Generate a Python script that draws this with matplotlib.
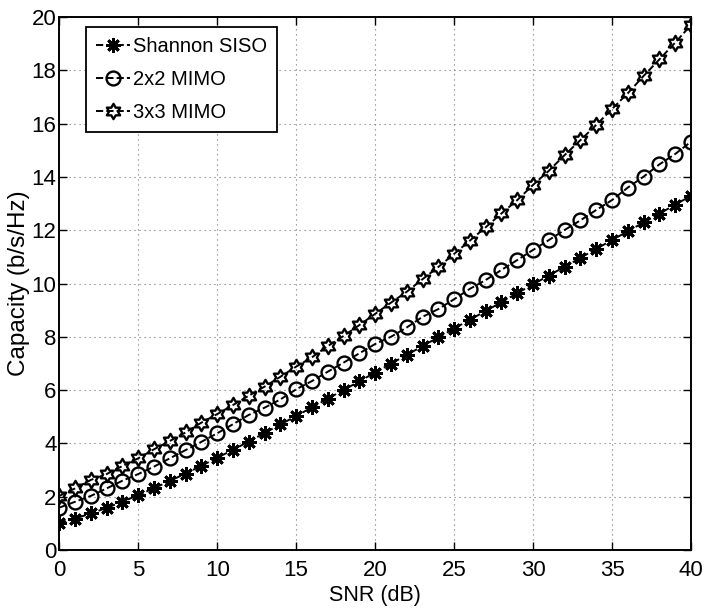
import matplotlib
matplotlib.use("Agg")
import matplotlib.pyplot as plt
from matplotlib.path import Path

plt.rcParams['font.family'] = ['Liberation Sans', 'DejaVu Sans']

# SNR axis (dB)
snr_db = list(range(0, 41))

# capacity curves (b/s/Hz)
siso = [1.00, 1.18, 1.37, 1.58, 1.81, 2.06, 2.32, 2.59, 2.87, 3.16,
        3.46, 3.76, 4.07, 4.39, 4.71, 5.03, 5.35, 5.68, 6.00, 6.33,
        6.66, 6.99, 7.32, 7.65, 7.98, 8.31, 8.64, 8.97, 9.30, 9.64,
        9.97, 10.30, 10.63, 10.96, 11.30, 11.63, 11.96, 12.29, 12.62, 12.96,
        13.29]
mimo2 = [1.59, 1.81, 2.03, 2.31, 2.60, 2.85, 3.13, 3.44, 3.75, 4.06,
         4.38, 4.72, 5.07, 5.34, 5.65, 6.03, 6.34, 6.69, 7.03, 7.38,
         7.73, 8.00, 8.35, 8.75, 9.04, 9.41, 9.80, 10.13, 10.51, 10.88,
         11.26, 11.63, 12.01, 12.37, 12.76, 13.13, 13.60, 14.01, 14.47, 14.86,
         15.32]
mimo3 = [2.03, 2.31, 2.63, 2.85, 3.15, 3.44, 3.78, 4.09, 4.41, 4.78,
         5.10, 5.44, 5.79, 6.13, 6.50, 6.88, 7.23, 7.65, 8.03, 8.44,
         8.86, 9.28, 9.69, 10.16, 10.62, 11.11, 11.61, 12.11, 12.63, 13.13,
         13.70, 14.23, 14.82, 15.38, 15.95, 16.55, 17.14, 17.79, 18.41, 19.04,
         19.70]

labels = ['Shannon SISO', '2x2 MIMO', '3x3 MIMO']

# hexagram marker (star of David)
hexagram = Path.unit_regular_star(6, 0.577)

fig = plt.figure(figsize=(7.04, 6.08), dpi=100)
ax = fig.add_axes([0.0842, 0.0954, 0.8973, 0.8766])

ax.plot(snr_db, siso, color='k', linestyle='--', linewidth=1.4,
        marker=(8, 2, 0), markersize=10.5, markeredgewidth=2.0,
        label=labels[0])
ax.plot(snr_db, mimo2, color='k', linestyle='--', linewidth=1.4,
        marker='o', markersize=10, markerfacecolor='none',
        markeredgewidth=1.7, label=labels[1])
ax.plot(snr_db, mimo3, color='k', linestyle='--', linewidth=1.4,
        marker=hexagram, markersize=11, markerfacecolor='none',
        markeredgewidth=1.7, label=labels[2])

ax.set_xlim(0, 40)
ax.set_ylim(0, 20)
ax.set_xticks(range(0, 41, 5))
ax.set_yticks(range(0, 21, 2))

ax.grid(True, color='0.45', linestyle=(0, (1, 3.5)), linewidth=0.8)
ax.tick_params(direction='in', top=True, right=True, length=6,
               width=1, labelsize=16)
ax.tick_params(axis='x', pad=7)
ax.tick_params(axis='y', pad=2)
for sp in ax.spines.values():
    sp.set_linewidth(1.4)

ax.set_xlabel('SNR (dB)', fontsize=15.5, labelpad=3)
ax.set_ylabel('Capacity (b/s/Hz)', fontsize=17.5, labelpad=1)

leg = ax.legend(loc='upper left', bbox_to_anchor=(0.042, 0.981),
                borderaxespad=0, fontsize=14.5, fancybox=False,
                edgecolor='k', framealpha=1, handlelength=1.7,
                handletextpad=0.15, labelspacing=0.7, borderpad=0.5)
leg.get_frame().set_linewidth(1.3)

fig.savefig('out.png', dpi=100)
